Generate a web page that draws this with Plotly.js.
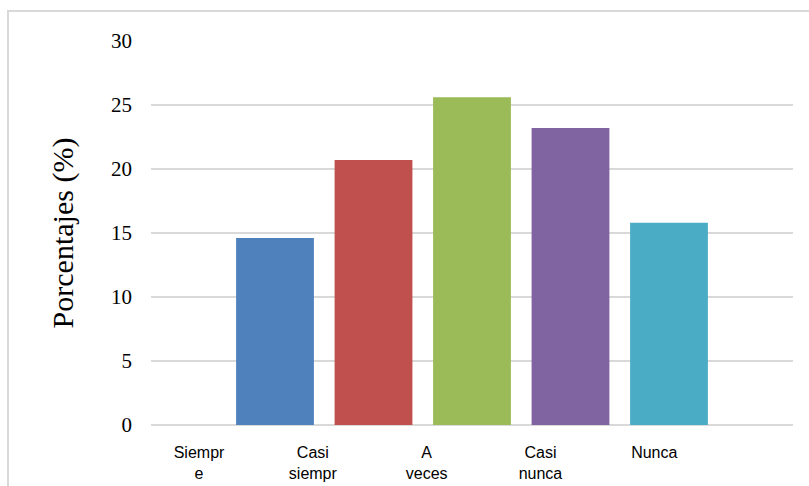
<!DOCTYPE html>
<html>
<head>
<meta charset="utf-8">
<script src="https://cdn.plot.ly/plotly-3.0.1.min.js"></script>
<style>
  html, body { margin: 0; padding: 0; background: #ffffff; }
  #wrap { position: relative; width: 809px; height: 486px; overflow: hidden; }
  #chart { position: absolute; left: 0; top: 0; width: 809px; height: 486px; }
  #frame { position: absolute; left: 7px; top: 10px; width: 820px; height: 500px;
           border-top: 2px solid #d9d9d9; border-left: 2px solid #d9d9d9; pointer-events: none; }
</style>
</head>
<body>
<div id="wrap">
  <div id="chart"></div>
  <div id="frame"></div>
</div>
<script>
// Categories and values
const categories = ["Siempre", "Casi siempre", "A veces", "Casi nunca", "Nunca"];
const tickLabels = ["Siempr<br>e", "Casi<br>siempr", "A<br>veces", "Casi<br>nunca", "Nunca"];
const percentages = [14.6, 20.7, 25.6, 23.2, 15.8];
const barColors = ["#4F81BD", "#C0504D", "#9BBB59", "#8064A2", "#4BACC6"];
const yTickValues = [0, 5, 10, 15, 20, 25, 30];

const tickIdx = tickLabels.map((_, i) => i);

const traces = [
  {
    type: "bar",
    x: categories,
    y: percentages,
    marker: { color: barColors, line: { width: 0 } },
    hoverinfo: "x+y",
    xaxis: "x",
    yaxis: "y"
  },
  {
    type: "scatter",
    mode: "none",
    x: tickIdx,
    y: percentages.map(() => null),
    hoverinfo: "skip",
    showlegend: false,
    xaxis: "x2",
    yaxis: "y"
  }
];

const layout = {
  width: 809,
  height: 486,
  margin: { l: 151, r: 16, t: 41, b: 61 },
  paper_bgcolor: "#ffffff",
  plot_bgcolor: "#ffffff",
  showlegend: false,
  bargap: 0.21,
  xaxis: {
    type: "category",
    range: [-1.259, 5.259],
    showticklabels: false,
    showgrid: false,
    zeroline: false,
    showline: false,
    ticks: ""
  },
  xaxis2: {
    type: "linear",
    overlaying: "x",
    anchor: "y",
    side: "bottom",
    range: [-0.422, 5.219],
    tickmode: "array",
    tickvals: tickIdx,
    ticktext: tickLabels,
    showgrid: false,
    zeroline: false,
    showline: false,
    ticks: "",
    ticklabelstandoff: 16,
    tickfont: { family: "Liberation Sans Narrow, Arial Narrow, Liberation Sans, Arial, sans-serif", size: 16, color: "#000000" }
  },
  yaxis: {
    range: [0, 30],
    tickmode: "array",
    tickvals: yTickValues,
    ticktext: yTickValues.map(String),
    showgrid: true,
    gridcolor: "#d9d9d9",
    gridwidth: 1.5,
    zeroline: true,
    zerolinecolor: "#d9d9d9",
    zerolinewidth: 1.5,
    showline: false,
    ticks: "",
    ticklabelstandoff: 18,
    tickfont: { family: "Liberation Serif, Times New Roman, serif", size: 21, color: "#000000" },
    title: {
      text: "Porcentajes (%)",
      font: { family: "Liberation Serif, Times New Roman, serif", size: 30, color: "#000000" },
      standoff: 28
    }
  }
};

Plotly.newPlot("chart", traces, layout, { displayModeBar: false, staticPlot: true });
</script>
</body>
</html>
